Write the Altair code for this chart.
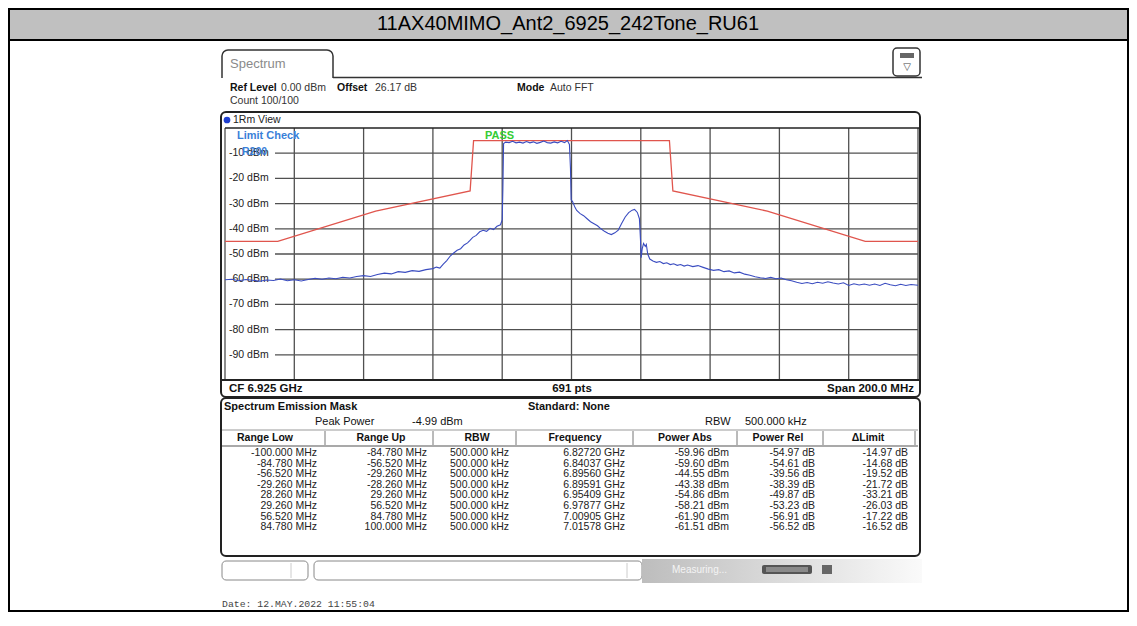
import altair as alt
import pandas as pd

# ---------------- data ----------------
TITLE = "11AX40MIMO_Ant2_6925_242Tone_RU61"

trace_mhz = [
    -100, -98, -96, -94, -92, -90, -88, -86, -84, -82,
    -80, -78, -76, -74, -72, -70, -68, -66, -64, -62,
    -60, -58, -56, -54, -52, -50, -48, -46, -44, -42,
    -40, -39, -38, -37, -36, -35, -34, -33, -32, -31,
    -30, -29.3, -28.5, -27.5, -26.5, -25.5, -24.5, -23.5, -22.5, -21.5,
    -20.5, -20.0, -19.8, -19.6, -19.0, -18, -17, -16, -15, -14,
    -13, -12, -11, -10, -9, -8, -7, -6, -5, -4,
    -3, -2, -1.2, -0.6, -0.3, -0.1, 0.3, 1, 1.5, 2.5,
    3.5, 4.5, 5.5, 6.5, 7.5, 8.5, 9.5, 10.5, 11.5, 12.5,
    13.5, 14.5, 15.5, 16.5, 17.5, 18.2, 19.0, 19.6, 19.9, 20.1,
    20.4, 20.8, 21.3, 21.6, 22.0, 22.6, 23.5, 24.5, 25.5, 26.5,
    27.5, 28.5, 29.5, 30.5, 31.5, 32.5, 33.5, 35, 36.5, 38,
    39.5, 41, 42.5, 44, 45.5, 47, 48.5, 50, 51.5, 53,
    54.5, 56, 57.5, 59, 60.5, 62, 63.5, 65, 66.5, 68,
    69.5, 71, 72.5, 74, 75.5, 77, 78.5, 80, 81.5, 83,
    84.5, 86, 87.5, 89, 90.5, 92, 93.5, 95, 96.5, 98,
    100,
]
trace_dbm = [
    -60.2, -60.0, -60.6, -60.1, -60.4, -60.8, -60.3, -60.5, -59.9, -60.6,
    -60.2, -60.7, -60.1, -59.6, -60.0, -59.5, -59.8, -59.2, -59.5, -58.9,
    -58.6, -58.9, -58.1, -57.6, -57.9, -57.0, -57.3, -56.6, -56.9, -56.2,
    -55.8, -55.2, -55.6, -54.0, -52.6, -50.8, -49.6, -48.5, -47.9, -46.4,
    -45.6, -44.6, -43.4, -42.6, -41.2, -40.6, -41.0, -39.8, -40.3, -39.0,
    -38.4, -36.5, -24.0, -6.2, -5.6, -5.8, -5.3, -5.9, -5.6, -6.0,
    -5.4, -5.9, -5.5, -6.1, -5.7, -5.2, -5.8, -6.0, -5.5, -5.9,
    -5.3, -5.8, -5.0, -6.5, -16.0, -28.5, -29.2, -31.5, -32.7, -34.0,
    -34.8, -36.0, -37.2, -38.0, -38.8, -40.0, -41.0, -41.8, -42.3, -41.6,
    -40.5, -37.8, -35.3, -33.6, -32.6, -32.3, -33.5, -36.0, -44.0, -51.5,
    -48.0, -45.8, -47.0, -46.2, -50.0, -52.0, -52.8, -53.3, -53.0, -53.8,
    -53.5, -54.2, -53.9, -54.5, -54.2, -54.8, -54.4, -55.0, -54.6, -55.3,
    -56.0, -56.5, -56.2, -57.0, -56.7, -57.5, -57.2, -58.0, -58.4, -59.0,
    -59.4, -59.7, -59.3, -59.8, -59.5, -60.2, -60.6, -61.2, -61.7, -61.3,
    -61.8, -61.2, -61.6, -61.0, -61.5, -61.9, -61.4, -62.5, -61.8, -62.3,
    -61.9, -62.4, -61.9, -62.5, -61.6, -62.2, -62.6, -62.0, -62.5, -62.1,
    -62.4,
]

mask_mhz = [-100, -84.78, -56.52, -29.26, -28.26, 28.26, 29.26, 56.52, 84.78, 100]
mask_dbm = [-44.99, -44.99, -32.99, -24.99, -4.99, -4.99, -24.99, -32.99, -44.99, -44.99]

level_ticks = [-10, -20, -30, -40, -50, -60, -70, -80, -90]
freq_grid = [-100, -80, -60, -40, -20, 0, 20, 40, 60, 80, 100]

table_headers = ["Range Low", "Range Up", "RBW", "Frequency", "Power Abs", "Power Rel", "ΔLimit"]
range_low = ["-100.000 MHz", "-84.780 MHz", "-56.520 MHz", "-29.260 MHz",
             "28.260 MHz", "29.260 MHz", "56.520 MHz", "84.780 MHz"]
range_up = ["-84.780 MHz", "-56.520 MHz", "-29.260 MHz", "-28.260 MHz",
            "29.260 MHz", "56.520 MHz", "84.780 MHz", "100.000 MHz"]
rbw = ["500.000 kHz"] * 8
frequency = ["6.82720 GHz", "6.84037 GHz", "6.89560 GHz", "6.89591 GHz",
             "6.95409 GHz", "6.97877 GHz", "7.00905 GHz", "7.01578 GHz"]
power_abs = ["-59.96 dBm", "-59.60 dBm", "-44.55 dBm", "-43.38 dBm",
             "-54.86 dBm", "-58.21 dBm", "-61.90 dBm", "-61.51 dBm"]
power_rel = ["-54.97 dB", "-54.61 dB", "-39.56 dB", "-38.39 dB",
             "-49.87 dB", "-53.23 dB", "-56.91 dB", "-56.52 dB"]
delta_limit = ["-14.97 dB", "-14.68 dB", "-19.52 dB", "-21.72 dB",
               "-33.21 dB", "-26.03 dB", "-17.22 dB", "-16.52 dB"]

# ---------------- layout (page pixels) ----------------
SANS = "Liberation Sans"
MONO = "Liberation Mono"
OX, OY = 225, 128          # page position of plot origin
W, H = 693, 252            # plot area
PAD = {"left": 217, "top": 120, "right": 211, "bottom": 232}
TOTAL_W = PAD["left"] + W + PAD["right"]
TOTAL_H = PAD["top"] + H + PAD["bottom"]

GRID = "#505050"
RED = "#e0554d"
BLUE = "#3a4cc0"

one = pd.DataFrame({"k": [0]})
layers = []


def T(s, X, Y, size=10.5, weight="normal", color="#111", align="left", font=SANS):
    layers.append(
        alt.Chart(one).mark_text(text=s, align=align, baseline="middle", fontSize=size,
                                 fontWeight=weight, color=color, font=font)
        .encode(x=alt.value(X - OX), y=alt.value(Y - OY)))


def R(X1, Y1, X2, Y2, fill="white", stroke=None, sw=1.0, radius=0, fill_opacity=1.0):
    kw = dict(fill=fill, fillOpacity=fill_opacity, cornerRadius=radius)
    if stroke:
        kw.update(stroke=stroke, strokeWidth=sw)
    layers.append(
        alt.Chart(one).mark_rect(**kw)
        .encode(x=alt.value(X1 - OX), x2=alt.value(X2 - OX),
                y=alt.value(Y1 - OY), y2=alt.value(Y2 - OY)))


def L(X1, Y1, X2, Y2, color="#222", sw=1.0):
    layers.append(
        alt.Chart(one).mark_rule(color=color, strokeWidth=sw)
        .encode(x=alt.value(X1 - OX), x2=alt.value(X2 - OX),
                y=alt.value(Y1 - OY), y2=alt.value(Y2 - OY)))


# outer frame + title bar
R(9, 9, TOTAL_W + 7, TOTAL_H + 7, fill="white", stroke="#000", sw=2)
R(9, 9, TOTAL_W + 7, 40, fill="#c0c0c0", stroke="#000", sw=2)
T(TITLE, 568, 24, size=20, align="center", color="#000")

# Spectrum tab + header
R(222, 50, 333, 92, fill="white", stroke="#333", sw=1.5, radius=6)
R(219, 78, 336, 95, fill="white")
L(333, 77.5, 922, 77.5, "#333", 1.5)
T("Spectrum", 230, 64, size=13, color="#8a8a8a")
R(893, 48, 920, 76, fill="white", stroke="#333", sw=1.5, radius=4)
R(900, 53, 914, 58, fill="#666")
T("▽", 907, 67, size=10, align="center", color="#444", font="DejaVu Sans")

T("Ref Level", 230, 88, weight="bold")
T("0.00 dBm", 281, 88, color="#333")
T("Offset", 337, 88, weight="bold")
T("26.17 dB", 375, 88, color="#333")
T("Mode", 517, 88, weight="bold")
T("Auto FFT", 550, 88, color="#333")
T("Count 100/100", 230, 101, color="#333")

# diagram frame
R(221, 112, 920, 397, fill="white", stroke="#222", sw=2, radius=5)
layers.append(alt.Chart(one).mark_point(filled=True, size=45, color="#1f3fd0", opacity=1)
              .encode(x=alt.value(227 - OX), y=alt.value(120 - OY)))
T("1Rm View", 233, 120, size=10.5, color="#222")

# ---------------- plot (through scales) ----------------
xs = alt.Scale(domain=[-100, 100], nice=False, zero=False)
ys = alt.Scale(domain=[-100, 0], nice=False, zero=False)

grid_df = pd.DataFrame({"f": freq_grid})
layers.append(alt.Chart(grid_df).mark_rule(color=GRID, strokeWidth=1.3)
              .encode(x=alt.X("f:Q", scale=xs, axis=None), y=alt.value(0), y2=alt.value(H)))

lvl_df = pd.DataFrame({"lvl": level_ticks})
layers.append(alt.Chart(lvl_df).mark_rule(color=GRID, strokeWidth=1.3)
              .encode(y=alt.Y("lvl:Q", scale=ys, axis=None), x=alt.value(50), x2=alt.value(W)))
layers.append(alt.Chart(lvl_df).transform_calculate(lab="datum.lvl + ' dBm'")
              .mark_text(align="left", baseline="middle", fontSize=10.5, font=SANS, color="#222")
              .encode(y=alt.Y("lvl:Q", scale=ys, axis=None), x=alt.value(4), text="lab:N"))

L(OX, OY, 920, OY, "#222", 1.5)
L(221, 380, 920, 380, "#222", 2)

T("Limit Check", 237, 136, size=11, weight="bold", color="#3a80d8")
T("R200", 242, 152, size=10.5, weight="bold", color="#3a80d8")
T("PASS", 485, 136, size=11, weight="bold", color="#33cc33")

mask_df = pd.DataFrame({"f": mask_mhz, "l": mask_dbm, "i": range(len(mask_mhz))})
layers.append(alt.Chart(mask_df).mark_line(color=RED, strokeWidth=1.3)
              .encode(x=alt.X("f:Q", scale=xs, axis=None), y=alt.Y("l:Q", scale=ys, axis=None),
                      order="i:Q"))

trace_df = pd.DataFrame({"f": trace_mhz, "l": trace_dbm, "i": range(len(trace_mhz))})
layers.append(alt.Chart(trace_df).mark_line(color=BLUE, strokeWidth=1.1)
              .encode(x=alt.X("f:Q", scale=xs, axis=None), y=alt.Y("l:Q", scale=ys, axis=None),
                      order="i:Q"))

T("CF 6.925 GHz", 229, 389, size=11.5, weight="bold", color="#111")
T("691 pts", 572, 389, size=11.5, weight="bold", align="center", color="#111")
T("Span 200.0 MHz", 914, 389, size=11.5, weight="bold", align="right", color="#111")

# ---------------- result table ----------------
R(221, 398, 920, 556, fill="white", stroke="#222", sw=2, radius=5)
T("Spectrum Emission Mask", 224, 407, size=11, weight="bold")
T("Standard: None", 528, 407, size=11, weight="bold")
T("Peak Power", 315, 422, size=11)
T("-4.99 dBm", 412, 422, size=11)
T("RBW", 705, 422, size=11)
T("500.000 kHz", 745, 422, size=11)

L(222, 430, 918, 430, "#999", 1)
L(222, 446, 918, 446, "#555", 1.2)
head_centers = [265, 381, 477, 575, 685, 778, 868]
for h, cx in zip(table_headers, head_centers):
    T(h, cx, 438, size=10.5, weight="bold", align="center")
for sx in [325, 433, 516, 633, 737, 823, 915]:
    L(sx, 431, sx, 445, "#777", 1)

ROW0, RH = 453, 10.6
tab_df = pd.DataFrame({"row": range(8), "c0": range_low, "c1": range_up, "c2": rbw,
                       "c3": frequency, "c4": power_abs, "c5": power_rel, "c6": delta_limit})
right_edges = [317, 427, 509, 625, 729, 815, 908]
for ci, rx in enumerate(right_edges):
    layers.append(
        alt.Chart(tab_df)
        .transform_calculate(py=f"{ROW0 - OY} + datum.row * {RH}")
        .mark_text(align="right", baseline="middle", fontSize=10.5, font=SANS, color="#222")
        .encode(x=alt.value(rx - OX), y=alt.Y("py:Q", scale=None, axis=None), text=f"c{ci}:N"))

# ---------------- status bar + date ----------------
R(222, 561, 308, 580, fill="white", stroke="#888", sw=1, radius=4)
L(291, 563, 291, 578, "#ccc", 1)
R(314, 561, 642, 580, fill="white", stroke="#888", sw=1, radius=4)
L(627, 563, 627, 578, "#ccc", 1)
grad = alt.LinearGradient(gradient="linear", x1=0, x2=1, y1=0, y2=0,
                          stops=[alt.GradientStop(color="#bdbdbd", offset=0),
                                 alt.GradientStop(color="#fafafa", offset=1)])
layers.append(alt.Chart(one).mark_rect(color=grad)
              .encode(x=alt.value(642 - OX), x2=alt.value(922 - OX),
                      y=alt.value(559 - OY), y2=alt.value(583 - OY)))
T("Measuring...", 672, 570, size=10, color="#f4f4f4")
R(762, 565, 812, 574, fill="#555", radius=2)
R(766, 567, 808, 572, fill="#8a8a8a")
R(822, 565, 832, 574, fill="#666")

T("Date: 12.MAY.2022  11:55:04", 222, 604, size=9.8, color="#444", font=MONO)

chart = alt.layer(*layers).properties(
    width=W, height=H,
    autosize=alt.AutoSizeParams(type="none"),
    padding=PAD,
    background="white",
).configure_view(stroke=None, fill=None)

chart.save("out.html", embed_options={"renderer": "svg", "actions": False})
